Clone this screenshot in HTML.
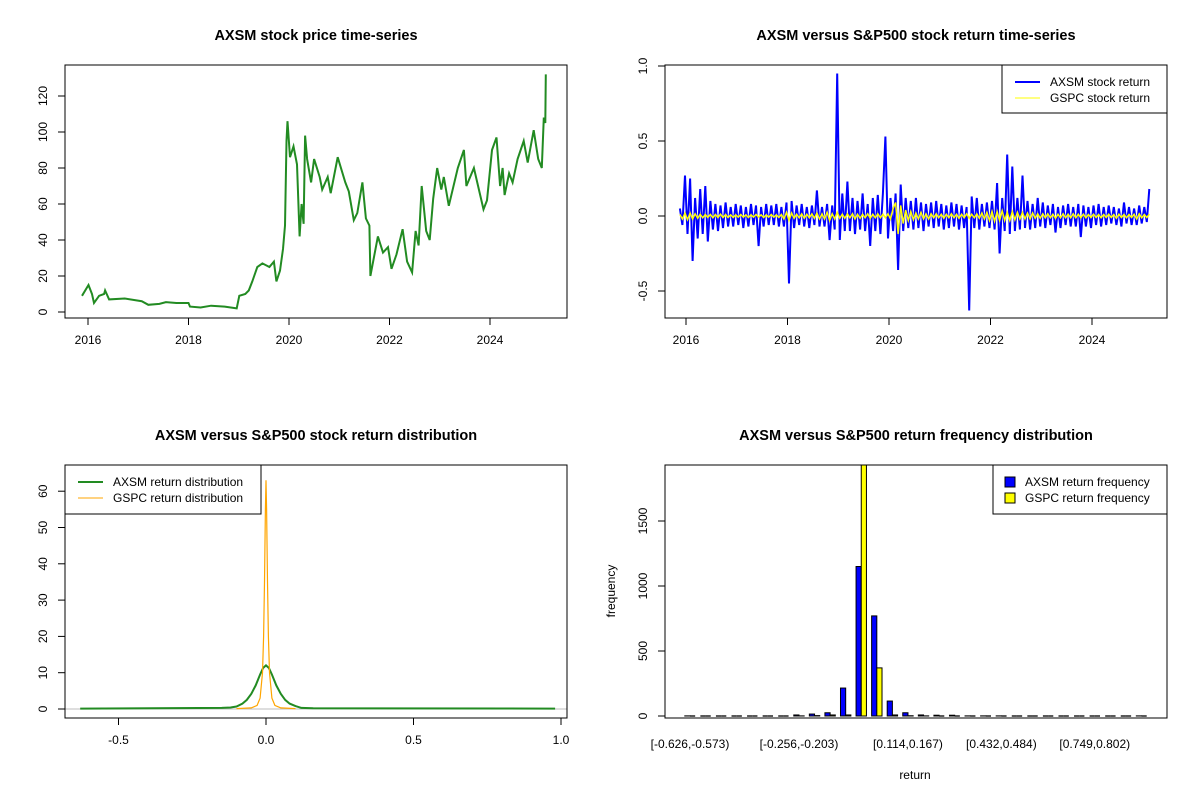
<!DOCTYPE html>
<html><head><meta charset="utf-8"><style>
body{margin:0;background:#fff}
svg{display:block;font-family:"Liberation Sans",Arial,sans-serif}
</style></head><body>
<svg id="s" width="1200" height="800" viewBox="0 0 1200 800"></svg>
<script>
// ---------- data ----------
const priceYears=[2015.88,2016.01,2016.08,2016.12,2016.22,2016.32,2016.34,2016.42,2016.73,2017.07,2017.2,2017.42,2017.55,2017.76,2018.0,2018.03,2018.24,2018.45,2018.72,2018.96,2019.01,2019.13,2019.2,2019.27,2019.37,2019.47,2019.61,2019.7,2019.75,2019.82,2019.88,2019.92,2019.95,2019.97,2020.02,2020.09,2020.16,2020.21,2020.25,2020.29,2020.32,2020.36,2020.44,2020.5,2020.61,2020.66,2020.77,2020.83,2020.97,2021.12,2021.19,2021.29,2021.36,2021.46,2021.53,2021.6,2021.62,2021.77,2021.87,2021.97,2022.04,2022.14,2022.26,2022.35,2022.45,2022.52,2022.58,2022.64,2022.73,2022.8,2022.87,2022.95,2023.03,2023.08,2023.18,2023.36,2023.48,2023.53,2023.68,2023.87,2023.94,2024.04,2024.13,2024.2,2024.25,2024.29,2024.38,2024.45,2024.55,2024.67,2024.75,2024.87,2024.96,2025.03,2025.07,2025.1,2025.11];
const priceValues=[9,15,10,5,9,10,12,7,7.5,6,4,4.5,5.5,5,5,3,2.5,3.5,3,2,9,10,12,17,25,27,25,28,17,23,35,48,95,106,86,92,82,42,60,49,98,85,72,85,75,68,75,66,86,72,67,51,55,72,52,48,20,42,33,36,24,32,46,28,22,45,37,70,45,40,63,80,68,75,59,80,90,70,80,57,62,90,97,70,80,65,77,72,85,95,83,101,85,80,108,105,132];
const retStart=[2015.88], retStep=[0.05];
const retAXSM=[0.05,-0.06,0.27,-0.12,0.25,-0.30,0.12,-0.15,0.18,-0.12,0.20,-0.17,0.10,-0.09,0.08,-0.10,0.07,-0.08,0.09,-0.07,
0.06,-0.07,0.08,-0.06,0.07,-0.08,0.06,-0.07,0.08,-0.06,0.07,-0.20,0.06,-0.07,0.08,-0.06,0.07,-0.06,0.08,-0.07,
0.06,-0.07,0.09,-0.45,0.10,-0.08,0.07,-0.06,0.08,-0.07,0.06,-0.08,0.07,-0.06,0.17,-0.07,0.06,-0.07,0.08,-0.16,
0.07,-0.09,0.95,-0.16,0.15,-0.10,0.23,-0.10,0.12,-0.12,0.10,-0.09,0.15,-0.10,0.08,-0.20,0.12,-0.10,0.14,-0.12,
0.15,0.53,-0.15,0.12,-0.10,0.15,-0.36,0.21,-0.10,0.12,-0.08,0.10,-0.09,0.12,-0.08,0.09,-0.10,0.08,-0.07,0.09,
-0.08,0.10,-0.07,0.08,-0.09,0.07,-0.08,0.09,-0.07,0.08,-0.09,0.07,-0.08,0.06,-0.63,0.13,-0.08,0.12,-0.09,0.08,
-0.07,0.09,-0.08,0.10,-0.09,0.22,-0.25,0.12,-0.10,0.41,-0.12,0.33,-0.10,0.12,-0.09,0.27,-0.08,0.10,-0.09,0.08,
-0.08,0.12,-0.07,0.09,-0.08,0.07,-0.06,0.08,-0.11,0.06,-0.08,0.07,-0.06,0.08,-0.07,0.06,-0.07,0.08,-0.14,0.07,
-0.07,0.06,-0.08,0.07,-0.06,0.08,-0.07,0.06,-0.06,0.07,-0.05,0.06,-0.06,0.05,-0.07,0.09,-0.05,0.06,-0.06,0.05,-0.06,0.07,-0.05,0.06,-0.04,0.18];
const retGSPC=[0.01,-0.02,0.02,-0.025,0.02,-0.02,0.015,-0.015,0.012,-0.012,0.01,-0.01,0.01,-0.012,0.01,-0.01,0.012,-0.01,0.01,-0.01,
0.008,-0.01,0.008,-0.008,0.01,-0.008,0.008,-0.01,0.008,-0.008,0.01,-0.008,0.008,-0.01,0.008,-0.008,0.01,-0.008,0.008,-0.01,
0.01,-0.02,0.025,-0.03,0.02,-0.015,0.012,-0.012,0.015,-0.015,0.012,-0.012,0.015,-0.015,0.02,-0.02,0.015,-0.02,0.025,-0.03,
0.015,-0.02,0.025,-0.015,0.012,-0.015,0.015,-0.012,0.015,-0.02,0.012,-0.015,0.012,-0.012,0.015,-0.015,0.012,-0.012,0.015,-0.012,
0.012,-0.012,0.015,-0.02,0.05,0.09,-0.12,0.07,-0.05,0.04,-0.03,0.03,-0.025,0.02,-0.02,0.025,-0.02,0.015,-0.02,0.015,
-0.012,0.015,-0.012,0.012,-0.015,0.012,-0.012,0.015,-0.012,0.012,-0.015,0.012,-0.012,0.015,-0.015,0.012,-0.012,0.015,-0.015,0.02,
-0.02,0.025,-0.03,0.03,-0.035,0.03,-0.03,0.035,-0.03,0.025,-0.03,0.03,-0.025,0.025,-0.02,0.025,-0.02,0.02,-0.02,0.02,
-0.015,0.015,-0.015,0.015,-0.012,0.015,-0.012,0.012,-0.015,0.012,-0.012,0.015,-0.012,0.012,-0.012,0.015,-0.012,0.012,-0.012,0.012,
-0.012,0.01,-0.01,0.012,-0.01,0.01,-0.012,0.01,-0.01,0.012,-0.01,0.01,-0.015,0.012,-0.01,0.01,-0.012,0.01,-0.01,0.012,-0.02,0.015,-0.012,0.01,-0.01,0.012];
const densAxsmX=[-0.63,-0.15,-0.12,-0.1,-0.08,-0.065,-0.05,-0.035,-0.02,-0.01,0,0.01,0.02,0.035,0.05,0.065,0.08,0.1,0.12,0.16,0.98];
const densAxsmY=[0.1,0.3,0.4,0.7,1.5,2.5,4.2,6.5,9.5,11.3,12,11.3,9.5,6.5,4.2,2.5,1.5,0.8,0.3,0.2,0.1];
const densGspcX=[-0.1,-0.05,-0.03,-0.02,-0.012,-0.008,-0.005,-0.002,0,0.002,0.005,0.008,0.012,0.02,0.03,0.05,0.1];
const densGspcY=[0.1,0.3,1,3,10,20,35,55,63,55,35,20,10,3,1,0.3,0.1];
const histBins=["[-0.626,-0.573)","[-0.573,-0.52)","[-0.52,-0.468)","[-0.468,-0.415)","[-0.415,-0.362)","[-0.362,-0.309)","[-0.309,-0.256)","[-0.256,-0.203)","[-0.203,-0.15)","[-0.15,-0.097)","[-0.097,-0.044)","[-0.044,0.009)","[0.009,0.061)","[0.061,0.114)","[0.114,0.167)","[0.167,0.22)","[0.22,0.273)","[0.273,0.326)","[0.326,0.379)","[0.379,0.432)","[0.432,0.484)","[0.484,0.537)","[0.537,0.59)","[0.59,0.643)","[0.643,0.696)","[0.696,0.749)","[0.749,0.802)","[0.802,0.855)","[0.855,0.908)","[0.908,0.961)"];
const histAXSM=[1,0,0,0,0,0,0,8,15,25,215,1150,770,115,25,8,6,6,1,1,1,0,0,0,0,0,0,0,0,1];
const histGSPC=[0,0,0,0,0,0,0,1,3,8,8,2050,370,8,2,1,0,0,0,0,0,0,0,0,0,0,0,0,0,0];
const histLabelIdx=[0,7,14,20,26];
const yearTicks=[2016,2018,2020,2022,2024];

// ---------- helpers ----------
const NS="http://www.w3.org/2000/svg", S=document.getElementById('s');
function el(tag,attrs,parent){const e=document.createElementNS(NS,tag);for(const k in attrs)e.setAttribute(k,attrs[k]);(parent||S).appendChild(e);return e;}
function txt(x,y,s,opt,parent){const e=el('text',Object.assign({x:x,y:y,'font-size':12,'text-anchor':'middle',fill:'#000'},opt||{}),parent);e.textContent=s;return e;}
function panel(name,x0,y0,x1,y1,title){
  const g=el('g',{});
  
  
  const t=txt((x0+x1)/2,y0-25,title,{'font-size':14.5,'font-weight':'bold'},g);
  
  
  return g;
}
function box(g,x0,y0,x1,y1){const r=el('rect',{x:x0,y:y0,width:x1-x0,height:y1-y0,fill:'none',stroke:'#000','stroke-width':1},g);}
function xaxis(g,ticks,X,yb,fmt){
  const a=el('g',{},g);
  el('line',{x1:X(ticks[0]),x2:X(ticks[ticks.length-1]),y1:yb,y2:yb,stroke:'#000'},a);
  ticks.forEach(t=>{el('line',{x1:X(t),x2:X(t),y1:yb,y2:yb+7,stroke:'#000'},a);const l=txt(X(t),yb+26,fmt(t),{},a);});
}
function yaxis(g,ticks,Y,xl,fmt){
  const a=el('g',{},g);
  el('line',{x1:xl,x2:xl,y1:Y(ticks[0]),y2:Y(ticks[ticks.length-1]),stroke:'#000'},a);
  ticks.forEach(t=>{el('line',{x1:xl,x2:xl-7,y1:Y(t),y2:Y(t),stroke:'#000'},a);const xx=xl-18,yy=Y(t);const l=txt(xx,yy,fmt(t),{transform:`rotate(-90 ${xx} ${yy})`},a);});
}
function poly(g,xs,ys,X,Y,opt){return el('polyline',Object.assign({points:xs.map((v,i)=>X(v).toFixed(1)+','+Y(ys[i]).toFixed(1)).join(' '),fill:'none'},opt),g);}
function legend(g,x0,y0,x1,y1,items,kind){
  const L=el('g',{},g);
  el('rect',{x:x0,y:y0,width:x1-x0,height:y1-y0,fill:'#fff',stroke:'#000'},L);
  items.forEach((it,i)=>{const yy=y0+17+i*16;
    const e=el('g',{},L);
    if(kind==='line')el('line',{x1:x0+13,x2:x0+38,y1:yy,y2:yy,stroke:it.c,'stroke-width':it.w},e);
    else el('rect',{x:x0+12,y:yy-5,width:10,height:10,fill:it.c,stroke:'#000'},e);
    txt(x0+(kind==='line'?48:32),yy+4,it.t,{'text-anchor':'start'},e);});
}

// ---------- panel 1: price ----------
{const g=panel('price-panel',65,65,567,318,'AXSM stock price time-series');
 const X=v=>88+(v-2016)*50.25, Y=v=>312-v*1.8;
 const line=poly(g,priceYears,priceValues,X,Y,{stroke:'#228B22','stroke-width':2});
 
 box(g,65,65,567,318);
 xaxis(g,yearTicks,X,318,String);
 yaxis(g,[0,20,40,60,80,100,120],Y,65,String);}

// ---------- panel 2: returns ----------
{const g=panel('returns-panel',665,65,1167,318,'AXSM versus S&P500 stock return time-series');
 const X=v=>686+(v-2016)*50.75, Y=v=>216-v*150;
 const yA=retAXSM.map((v,i)=>retStart[0]+i*retStep[0]);
 const yG=retGSPC.map((v,i)=>retStart[0]+i*(retStep[0]*retAXSM.length/retGSPC.length));
 const a=poly(g,yA,retAXSM,X,Y,{stroke:'#0000FF','stroke-width':2});
 
 const b=poly(g,yG,retGSPC,X,Y,{stroke:'#FFFF00','stroke-width':1.5});
 
 box(g,665,65,1167,318);
 xaxis(g,yearTicks,X,318,String);
 yaxis(g,[-0.5,0,0.5,1],Y,665,v=>v.toFixed(1));
 legend(g,1002,65,1167,113,[{c:'#0000FF',w:2,t:'AXSM stock return'},{c:'#FFFF00',w:1,t:'GSPC stock return'}],'line');}

// ---------- panel 3: density ----------
{const g=panel('density-panel',65,465,567,718,'AXSM versus S&P500 stock return distribution');
 const X=v=>266+v*295, Y=v=>709-v*3.63;
 el('line',{x1:65,x2:567,y1:Y(0),y2:Y(0),stroke:'#BEBEBE'},g);
 const a=poly(g,densAxsmX,densAxsmY,X,Y,{stroke:'#228B22','stroke-width':2});
 
 const b=poly(g,densGspcX,densGspcY,X,Y,{stroke:'#FFA500','stroke-width':1.2});
 
 box(g,65,465,567,718);
 xaxis(g,[-0.5,0,0.5,1],X,718,v=>v.toFixed(1));
 yaxis(g,[0,10,20,30,40,50,60],Y,65,String);
 legend(g,65,465,261,514,[{c:'#228B22',w:2,t:'AXSM return distribution'},{c:'#FFA500',w:1,t:'GSPC return distribution'}],'line');}

// ---------- panel 4: histogram ----------
{const g=panel('histogram-panel',665,465,1167,718,'AXSM versus S&P500 return frequency distribution');
 const U=u=>679.6+u*5.19, Y=v=>716-v*0.13;
 const clip=el('clipPath',{id:'c4'},g);el('rect',{x:665,y:465,width:502,height:253},clip);
 const bars=el('g',{'clip-path':'url(#c4)'},g);
 function bar(u,v,fill,name){
   if(v>0){const r=el('rect',{x:U(u),y:Y(v),width:U(u+1)-U(u),height:Y(0)-Y(v),fill:fill,stroke:'#000','stroke-width':1},bars);
     }
   else{const r=el('line',{x1:U(u),x2:U(u+1),y1:Y(0),y2:Y(0),stroke:'#000','stroke-width':1.3},bars);
     }
 }
 histBins.forEach((b,i)=>{
   const u=3*i+1;
   bar(u,histAXSM[i],'#0000FF','bar-axsm');
   bar(u+1,histGSPC[i],'#FFFF00','bar-gspc');
 });
 histLabelIdx.forEach(i=>{const l=txt(U(3*i+2),748,histBins[i],{},g);});
 box(g,665,465,1167,718);
 yaxis(g,[0,500,1000,1500],Y,665,String);
 const xt=txt(915,779,'return',{},g);
 const yt=txt(615,591,'frequency',{transform:'rotate(-90 615 591)'},g);
 legend(g,993,465,1167,514,[{c:'#0000FF',t:'AXSM return frequency'},{c:'#FFFF00',t:'GSPC return frequency'}],'rect');}
</script>
</body></html>
